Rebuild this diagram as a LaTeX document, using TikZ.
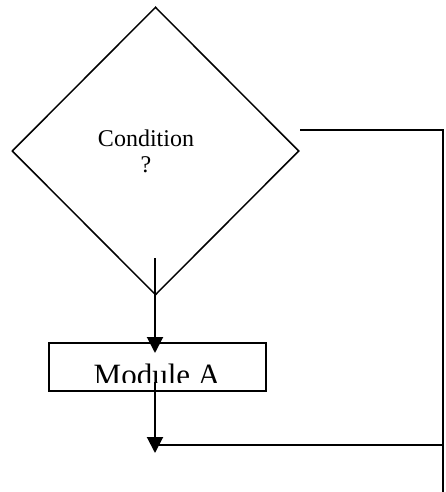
\documentclass[tikz,border=0pt]{standalone}
\usepackage{fontspec}
\setmainfont{Liberation Serif}
\usetikzlibrary{shapes.geometric, arrows.meta, positioning}

\begin{document}
\begin{tikzpicture}[x=1pt, y=-1pt,
        flow/.style={line width=2pt, -{Triangle[length=16pt, width=16pt]}},
        wire/.style={line width=2pt}]
        \useasboundingbox (0, 0) rectangle (445, 492);

        \node[diamond, draw, line width=1.5pt, inner sep=0, minimum width=287pt, minimum height=288pt] at (155.5, 151) (cond) {};
        \node[font=\fontsize{24}{26}\selectfont, align=center] at (146, 151) (condtext) {Condition\\?};

        \node[rectangle, draw, line width=1.6pt, minimum width=217pt, minimum height=48pt] at (157.5, 367) (moda) {};
        \begin{scope}
            \clip (0, 0) rectangle (445, 382);
            \node[font=\fontsize{31}{33}\selectfont, anchor=base] at (157, 385) (modlabel) {Module A};
        \end{scope}

        \coordinate (start) at (155, 258);
        \coordinate (out) at (155, 382);
        \coordinate (join) at (155, 453);
        \coordinate (nofrom) at (300, 130);
        \coordinate (nocorner) at (443, 130);
        \coordinate (noend) at (443, 492);
        \coordinate (nomerge) at (443, 445);

        \draw[flow] (start) -- (155, 353);
        \draw[flow] (out) -- (join);
        \draw[wire] (nofrom) -- (nocorner) -- (noend)
            (nomerge) -- (nomerge -| join);
    \end{tikzpicture}
\end{document}
